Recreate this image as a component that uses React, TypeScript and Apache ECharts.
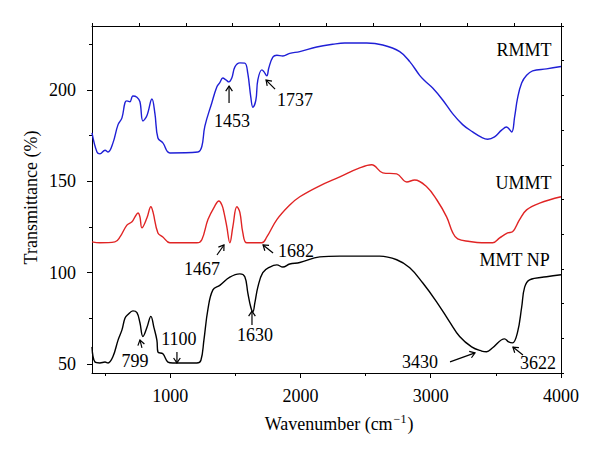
import React, { useEffect, useRef } from 'react';
import * as echarts from 'echarts';

// ---------- data ----------
const rmmtWn = [400, 438, 461, 500, 523, 561, 600, 630, 653, 668, 691, 714, 745, 768, 791, 822, 860, 883, 906, 944, 998, 1213, 1243, 1266, 1320, 1358, 1381, 1404, 1428, 1451, 1473, 1497, 1535, 1573, 1596, 1619, 1635, 1658, 1673, 1704, 1719, 1742, 1757, 1788, 1819, 1865, 1918, 1995, 2125, 2248, 2340, 2509, 2632, 2762, 2839, 2915, 2954, 3015, 3092, 3168, 3245, 3322, 3391, 3437, 3490, 3544, 3582, 3621, 3644, 3667, 3698, 3736, 3782, 3889, 4000];
const rmmtT = [176.5, 166, 165, 167, 166, 171, 181, 184.7, 193, 194, 193.5, 196.7, 196, 193.5, 183, 186, 195, 187, 173.7, 171, 165.5, 166, 169, 180, 193, 201.6, 204, 206.5, 205.5, 204.4, 206.5, 212.6, 214.8, 214.7, 209, 196, 190.5, 194.5, 205.5, 211, 210, 207.7, 212, 218, 219, 218.6, 220, 221, 223.5, 225, 225.7, 225.7, 224.6, 221, 215.5, 208, 205, 201, 194.5, 187, 181, 177, 174, 173, 174.3, 178, 179.7, 177, 185.3, 195.6, 203.8, 208, 210.4, 211.5, 212.8];

const ummtWn = [400, 461, 576, 615, 668, 707, 730, 753, 768, 783, 822, 852, 868, 906, 944, 998, 1205, 1243, 1290, 1343, 1374, 1397, 1412, 1435, 1458, 1481, 1512, 1535, 1558, 1589, 1704, 1742, 1819, 1918, 1995, 2148, 2302, 2455, 2547, 2632, 2739, 2816, 2877, 2969, 3045, 3122, 3168, 3207, 3299, 3391, 3475, 3529, 3590, 3628, 3682, 3736, 3836, 4000];
const ummtT = [116.8, 116.3, 116.8, 119.5, 126, 127.8, 130.5, 132.6, 130.5, 124.5, 130, 136, 133.2, 121.7, 119.5, 116.3, 116.3, 118, 129, 136.5, 139.2, 137, 133.2, 125, 116.3, 125, 136, 133, 121.7, 116.3, 116.3, 119.5, 129, 137, 141.5, 147.5, 152.4, 157.3, 159, 154.6, 154, 149.6, 150.7, 147, 140, 130.5, 122, 118.4, 117, 116.3, 116.3, 119, 121.7, 122.3, 129, 134.3, 138, 141.5];

const mmtWn = [400, 423, 461, 500, 523, 561, 600, 630, 653, 676, 714, 745, 768, 791, 822, 852, 875, 898, 906, 944, 983, 1021, 1205, 1236, 1259, 1290, 1328, 1381, 1458, 1535, 1573, 1596, 1619, 1635, 1650, 1673, 1711, 1765, 1819, 1865, 1918, 1995, 2148, 2302, 2608, 2739, 2839, 2938, 3045, 3145, 3222, 3314, 3391, 3429, 3475, 3567, 3598, 3628, 3667, 3698, 3721, 3759, 3889, 4000];
const mmtT = [59.3, 51, 50.5, 51, 50.5, 54, 63, 68.6, 75, 77, 79, 78, 72.5, 65, 70, 76, 70, 63, 56.5, 55.5, 51, 50.5, 50.5, 52, 63, 80, 90.5, 93, 97.5, 99.3, 97.7, 88.9, 81, 78.5, 83.4, 92, 100, 103, 104.2, 103, 104.7, 105.5, 108.6, 109, 109, 107, 102.6, 94.4, 84, 73, 65, 59.3, 57, 56.6, 58.8, 63.7, 62, 61.5, 67.5, 81, 92, 96, 97.7, 98.8];

const xMajorTicks = [1000, 2000, 3000, 4000];
const xMinorTicks = [500, 1500, 2500, 3500];
const yMajorTicks = [50, 100, 150, 200];
const yMinorTicks = [75, 125, 175, 225];

const seriesNames = ['RMMT', 'UMMT', 'MMT NP'];
const seriesColors = ['#1f1fd6', '#e02424', '#000000'];
// where each curve's name sits (data coords of the right end of the text)
const seriesLabelAnchors = [[3928, 222], [3928, 149.3], [3913, 107]];

// peak annotations: tip in data coords; tail & label as pixel offsets from the tip
const peakLabels = ['1453', '1737', '1467', '1682', '1630', '799', '1100', '3430', '3622'];
const peakTips = [[1452, 202.1], [1736, 205.4], [1413, 115.1], [1713, 115.1], [1628, 78.9], [768, 63.1], [1052, 50.5], [3340, 56], [3631, 59.2]];
const peakTails = [[0, 17], [9, 9], [-7, 10], [10, 8], [0, 14], [2, 8], [0, -11], [-25, 9], [10, 8]];
const peakLabelOffsets = [[3, 35], [29, 20], [-22, 24], [33, 6], [3, 24], [-5, 21], [2, -24], [-55, 9], [25, 16]];

const yTitle = 'Transmittance (%)';

const FONT = '"Liberation Serif", "Times New Roman", serif';
const BLACK = '#000000';

const zip = (a: number[], b: number[]) => a.map((v, i) => [v, b[i]]);

export default function App() {
  const ref = useRef<HTMLDivElement>(null);

  useEffect(() => {
    const chart = echarts.init(ref.current!, null, { renderer: 'svg' });
    const axisLine = { show: true, onZero: false, lineStyle: { color: BLACK, width: 1 } };
    const tickStyle = { color: BLACK, width: 1 };
    const labelStyle = { color: BLACK, fontFamily: FONT, fontSize: 18 };

    const option: any = {
      animation: false,
      backgroundColor: '#fff',
      textStyle: { color: BLACK, fontFamily: FONT },
      grid: { left: 92, right: 39, top: 26, bottom: 86, containLabel: false },
      xAxis: [
        {
          type: 'value', min: 400, max: 4000, position: 'bottom',
          axisLine,
          axisTick: { show: true, inside: false, length: 5, customValues: xMajorTicks, lineStyle: tickStyle },
          axisLabel: { ...labelStyle, margin: 14, customValues: xMajorTicks, formatter: (v: number) => String(v) },
          splitLine: { show: false },
          name: '{n|Wavenumber (cm}{s|−1}{n|)}',
          nameLocation: 'middle',
          nameGap: 40,
          nameTextStyle: {
            color: BLACK,
            padding: [0, 0, 0, 25],
            rich: {
              n: { fontFamily: FONT, fontSize: 18, color: BLACK, lineHeight: 22 },
              s: { fontFamily: FONT, fontSize: 12, color: BLACK, verticalAlign: 'top', lineHeight: 14, padding: [0, 1, 0, 1] },
            },
          },
        },
        {
          type: 'value', min: 400, max: 4000, position: 'bottom',
          axisLine: { show: false, onZero: false },
          axisTick: { show: true, inside: false, length: 3, customValues: xMinorTicks, lineStyle: tickStyle },
          axisLabel: { show: false },
          splitLine: { show: false },
        },
        {
          type: 'value', min: 0, max: 10, interval: 1, position: 'top',
          axisLine,
          axisTick: { show: true, inside: false, length: 3, lineStyle: tickStyle },
          axisLabel: { show: false },
          splitLine: { show: false },
        },
      ],
      yAxis: [
        {
          type: 'value', min: 45, max: 235, position: 'left',
          axisLine,
          axisTick: { show: true, inside: false, length: 5, customValues: yMajorTicks, lineStyle: tickStyle },
          axisLabel: { ...labelStyle, margin: 16, customValues: yMajorTicks },
          splitLine: { show: false },
        },
        {
          type: 'value', min: 45, max: 235, position: 'left',
          axisLine: { show: false, onZero: false },
          axisTick: { show: true, inside: false, length: 3, customValues: yMinorTicks, lineStyle: tickStyle },
          axisLabel: { show: false },
          splitLine: { show: false },
        },
        {
          type: 'value', min: 0, max: 10, interval: 1, position: 'right',
          axisLine,
          axisTick: { show: true, inside: false, length: 3, lineStyle: tickStyle },
          axisLabel: { show: false },
          splitLine: { show: false },
        },
      ],
      series: [
        [rmmtWn, rmmtT],
        [ummtWn, ummtT],
        [mmtWn, mmtT],
      ].map(([wn, t], i) => ({
        name: seriesNames[i],
        type: 'line',
        xAxisIndex: 0,
        yAxisIndex: 0,
        data: zip(wn as number[], t as number[]),
        showSymbol: false,
        smooth: 0.4,
        lineStyle: { color: seriesColors[i], width: 1.4 },
        itemStyle: { color: seriesColors[i] },
      })),
    };
    chart.setOption(option);

    const toPx = (p: number[]) => chart.convertToPixel({ xAxisIndex: 0, yAxisIndex: 0 }, p) as number[];
    const elements: any[] = [];
    const rot = (x: number, y: number, t: number) => [x * Math.cos(t) - y * Math.sin(t), x * Math.sin(t) + y * Math.cos(t)];

    peakLabels.forEach((text, i) => {
      const [tx, ty] = toPx(peakTips[i]);
      const [dx, dy] = peakTails[i];
      const len = Math.hypot(dx, dy);
      const ux = dx / len, uy = dy / len;
      const ang = (34 * Math.PI) / 180, h = 6;
      const [ax, ay] = rot(ux, uy, ang);
      const [bx, by] = rot(ux, uy, -ang);
      elements.push({
        type: 'line', silent: true,
        shape: { x1: tx + dx, y1: ty + dy, x2: tx, y2: ty },
        style: { stroke: BLACK, lineWidth: 1.2 },
      });
      elements.push({
        type: 'polyline', silent: true,
        shape: { points: [[tx + ax * h, ty + ay * h], [tx, ty], [tx + bx * h, ty + by * h]] },
        style: { stroke: BLACK, lineWidth: 1.2, fill: 'none' },
      });
      elements.push({
        type: 'text', silent: true,
        x: tx + peakLabelOffsets[i][0], y: ty + peakLabelOffsets[i][1],
        style: { text, fontFamily: FONT, fontSize: 18, fill: BLACK, align: 'center', verticalAlign: 'middle' },
      });
    });

    seriesNames.forEach((text, i) => {
      const [x, y] = toPx(seriesLabelAnchors[i]);
      elements.push({
        type: 'text', silent: true, x, y,
        style: { text, fontFamily: FONT, fontSize: 18, fill: BLACK, align: 'right', verticalAlign: 'middle' },
      });
    });

    // y-axis title, centred on the plot's vertical middle
    const rect = (chart as any).getModel().getComponent('grid', 0).coordinateSystem.getRect();
    elements.push({
      type: 'text', silent: true,
      x: 31, y: rect.y + rect.height / 2 - 2, rotation: Math.PI / 2,
      style: { text: yTitle, fontFamily: FONT, fontSize: 18, fill: BLACK, align: 'center', verticalAlign: 'middle' },
    });

    chart.setOption({ graphic: { elements } });
    return () => chart.dispose();
  }, []);

  return <div ref={ref} style={{ position: 'absolute', left: 0, top: 0, width: 600, height: 459 }} />;
}
